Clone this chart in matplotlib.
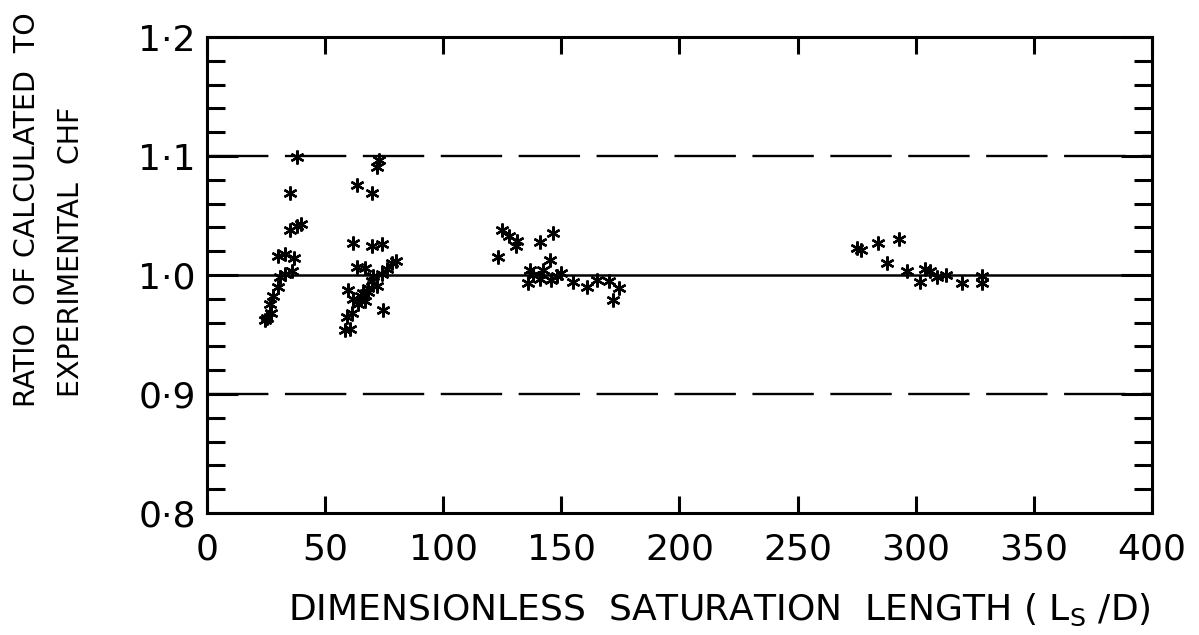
import numpy as np
from matplotlib import pyplot as plt
from matplotlib.ticker import MultipleLocator

plt.rcParams['font.family'] = ['DejaVu Sans']

# points (L_s/D, ratio calc/exp CHF)
ls_d = [38, 35.1, 35, 38, 40, 30, 33, 37, 31, 33, 36, 30, 26.7, 25.3, 28, 24.5, 27,
        71.8, 73, 63.4, 69.7, 61.9, 69.7, 73.9, 78.2, 80, 63.4, 66.7, 70.3, 73.9, 59.8,
        66.2, 68.3, 72, 64, 61.2, 59.2, 58.4, 60.5, 74.6, 65, 68, 62, 67, 70, 76,
        124.7, 131.1, 131, 146.6, 141, 123.3, 145.2, 136.7, 142.3, 136, 140.8, 145.5,
        148.3, 155, 160.7, 165, 174.2, 172, 170, 128, 138, 150,
        275, 277, 284.2, 293, 287.7, 296.2, 306, 301.8, 313, 319.5, 328, 328, 304, 309]
ratio = [1.0994, 1.069, 1.038, 1.041, 1.043, 1.016, 1.018, 1.014, 0.998, 1.001, 1.003,
         0.990, 0.976, 0.964, 0.982, 0.962, 0.968,
         1.091, 1.097, 1.076, 1.069, 1.027, 1.024, 1.026, 1.010, 1.012, 1.007, 1.006,
         0.999, 1.001, 0.987, 0.985, 0.989, 0.991, 0.976, 0.968, 0.965, 0.954, 0.955,
         0.971, 0.982, 0.986, 0.980, 0.978, 0.995, 1.005,
         1.038, 1.029, 1.024, 1.035, 1.028, 1.015, 1.013, 1.004, 1.004, 0.993, 0.997,
         0.996, 0.999, 0.994, 0.990, 0.996, 0.989, 0.979, 0.995, 1.033, 1.0, 1.002,
         1.0224, 1.021, 1.027, 1.03, 1.010, 1.003, 1.003, 0.994, 1.000, 0.993, 0.999,
         0.993, 1.005, 0.998]

x_ticks = [0, 50, 100, 150, 200, 250, 300, 350, 400]
y_ticks = [0.8, 0.9, 1.0, 1.1, 1.2]
y_ticklabels = ['0·8', '0·9', '1·0', '1·1', '1·2']

fig = plt.figure(figsize=(11.99, 6.35), dpi=100)
ax = fig.add_axes([0.1726, 0.1921, 0.7882, 0.7496])

ax.axhline(1.0, color='black', lw=1.8)
ax.axhline(1.1, color='black', lw=1.7, dashes=(26, 7))
ax.axhline(0.9, color='black', lw=1.7, dashes=(26, 7))

ax.plot(ls_d, ratio, ls='none', marker=(6, 2, 0), ms=10, mew=1.7, color='black')

ax.set_xlim(0, 400)
ax.set_ylim(0.8, 1.2)
ax.set_xticks(x_ticks)
ax.set_yticks(y_ticks)
ax.set_yticklabels(y_ticklabels)
ax.yaxis.set_minor_locator(MultipleLocator(0.02))

for s in ax.spines.values():
	s.set_linewidth(2.2)

ax.tick_params(axis='x', which='major', direction='in', top=True, length=12, width=2.2,
               labelsize=26, pad=14)
ax.tick_params(axis='y', which='major', direction='in', right=True, length=22, width=2.2,
               labelsize=26, pad=8)
ax.tick_params(axis='y', which='minor', direction='in', right=True, length=13, width=2.2)

fig.text(0.60, 1 - 610/635,
         'DIMENSIONLESS  SATURATION  LENGTH ( L$_\\mathregular{S}$ /D)',
         ha='center', va='center', fontsize=26)
fig.text(27/1199, 1 - 407/635, 'RATIO  OF CALCULATED  TO', rotation=90,
         ha='center', va='bottom', fontsize=20.5)
fig.text(71/1199, 1 - 397/635, 'EXPERIMENTAL  CHF', rotation=90,
         ha='center', va='bottom', fontsize=20.5)

fig.savefig('out.png', dpi=100)
